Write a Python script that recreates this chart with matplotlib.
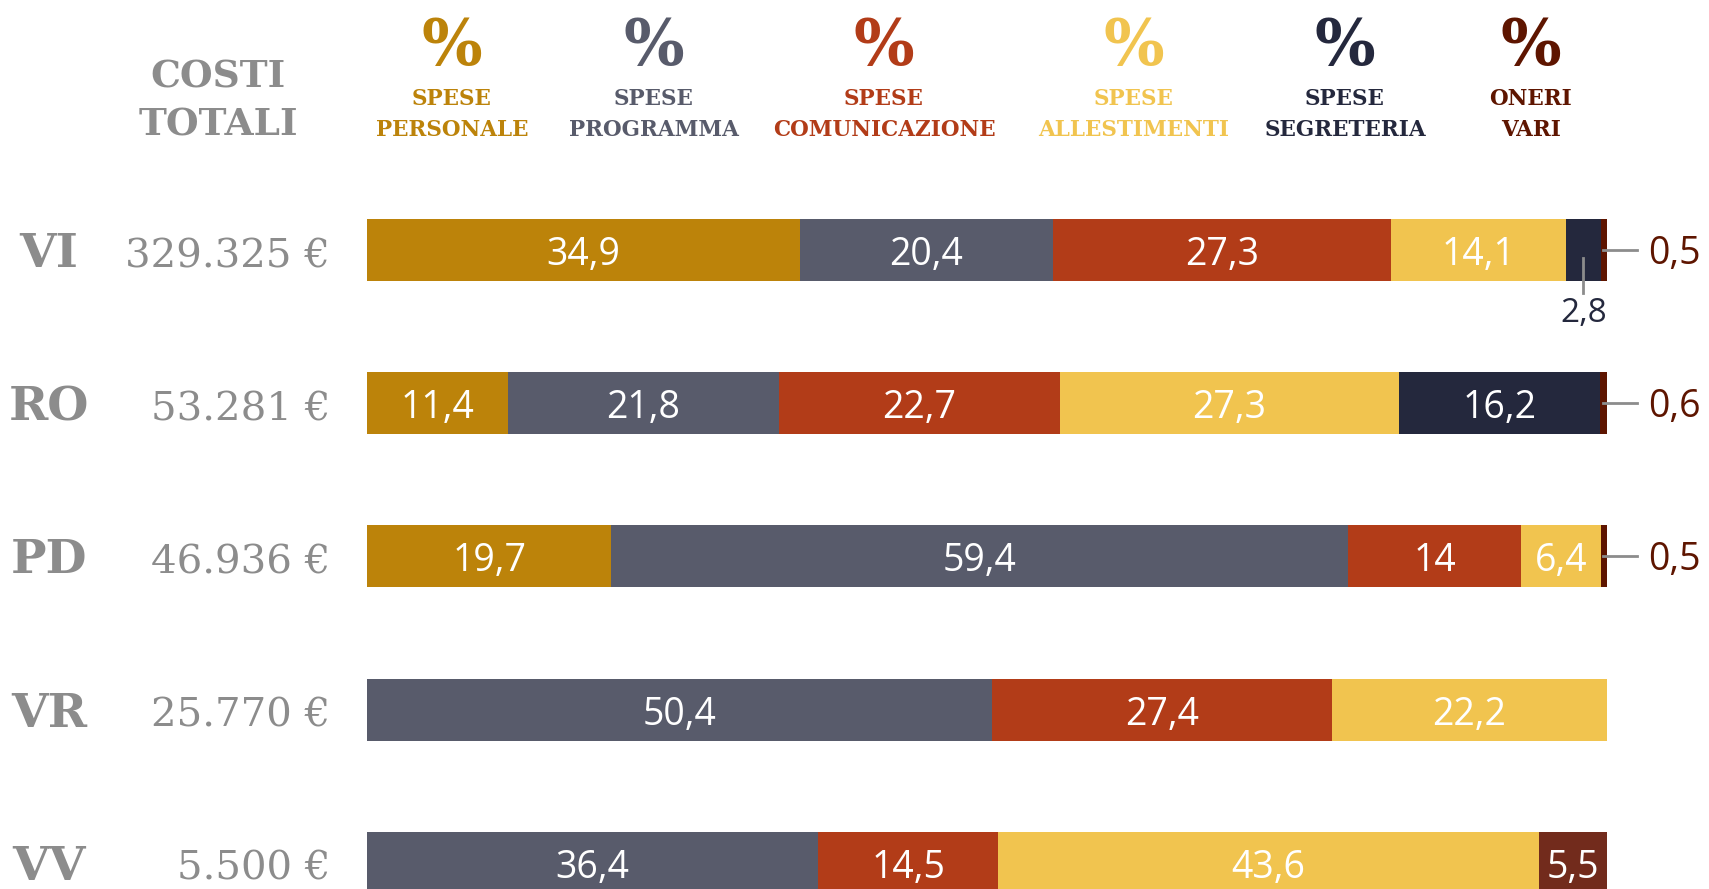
import matplotlib
matplotlib.use("Agg")
import matplotlib.pyplot as plt

# data
province = ["VI", "RO", "PD", "VR", "VV"]
costi = ["329.325 €", "53.281 €", "46.936 €", "25.770 €", "5.500 €"]
categorie = ["SPESE\nPERSONALE", "SPESE\nPROGRAMMA", "SPESE\nCOMUNICAZIONE",
             "SPESE\nALLESTIMENTI", "SPESE\nSEGRETERIA", "ONERI\nVARI"]
personale = [34.9, 11.4, 19.7, 0, 0]
programma = [20.4, 21.8, 59.4, 50.4, 36.4]
comunicazione = [27.3, 22.7, 14.0, 27.4, 14.5]
allestimenti = [14.1, 27.3, 6.4, 22.2, 43.6]
segreteria = [2.8, 16.2, 0, 0, 0]
oneri = [0.5, 0.6, 0.5, 0, 5.5]

serie = [personale, programma, comunicazione, allestimenti, segreteria, oneri]
colori = ["#BC830A", "#585B6B", "#B23C18", "#F1C44F", "#24283D", "#5E1500"]
header_x = [452, 654, 884, 1134, 1345, 1531]

W, H = 1709, 889
GRAY = "#8C8C8C"
SERIF = "DejaVu Serif"
SANS = "Open Sans"

fig = plt.figure(figsize=(W / 100, H / 100), dpi=100)

def px(x, y):
    return x / W, 1 - y / H

# bar area: 367..1607 px wide, row centres at 250 + 153.2*i
row0, step = 250, 153.2
ax = fig.add_axes([367 / W, 0, 1240 / W, 1])
ax.set_xlim(0, 100)
ax.set_ylim((H - row0) / step, -row0 / step)
ax.axis("off")

bh = 62 / step
base_off = 15 / step
for i in range(len(province)):
    left = 0
    for k, vals in enumerate(serie):
        v = vals[i]
        if v <= 0:
            continue
        c = colori[k]
        if i == 4 and k == 5:
            c = "#722B1C"
        ax.barh(i, v, left=left, height=bh, color=c, linewidth=0)
        lab = ("%g" % v).replace(".", ",")
        mid = left + v / 2
        if v >= 3:
            ax.text(mid, i + base_off, lab, ha="center", va="baseline",
                    color="white", fontsize=27, family=SANS)
        elif k == 5:
            # small "oneri" slice: label to the right with a leader line
            ax.plot([99.7, 102.4], [i, i], color=GRAY, lw=2, clip_on=False)
            ax.text(103.3, i + 14 / step, lab, ha="left", va="baseline",
                    color=colori[k], fontsize=27, family=SANS)
        else:
            # small slice: label under the bar
            ax.plot([mid, mid], [i + 8 / step, i + 43 / step], color=GRAY,
                    lw=2, clip_on=False)
            ax.text(mid, i + 72 / step, lab, ha="center", va="baseline",
                    color=colori[k], fontsize=24, family=SANS)
        left += v

# left labels
for i, (p, c) in enumerate(zip(province, costi)):
    y = row0 + step * i
    fig.text(*px(49, y + 17), p, ha="center", va="baseline", color=GRAY,
             fontsize=34, fontweight="bold", family=SERIF)
    fig.text(*px(330, y + 17), c, ha="right", va="baseline", color=GRAY,
             fontsize=29, family=SERIF)

# headers
fig.text(*px(218, 87), "COSTI", ha="center", va="baseline", color=GRAY,
         fontsize=27, fontweight="bold", family=SERIF)
fig.text(*px(218, 136), "TOTALI", ha="center", va="baseline", color=GRAY,
         fontsize=27, fontweight="bold", family=SERIF)
for x, cat, c in zip(header_x, categorie, colori):
    fig.text(*px(x, 65), "%", ha="center", va="baseline", color=c,
             fontsize=46, fontweight="bold", family=SERIF)
    l1, l2 = cat.split("\n")
    fig.text(*px(x, 105), l1, ha="center", va="baseline", color=c,
             fontsize=15.5, fontweight="bold", family=SERIF)
    fig.text(*px(x, 136), l2, ha="center", va="baseline", color=c,
             fontsize=15.5, fontweight="bold", family=SERIF)

fig.savefig("out.png", dpi=100, facecolor="white")
